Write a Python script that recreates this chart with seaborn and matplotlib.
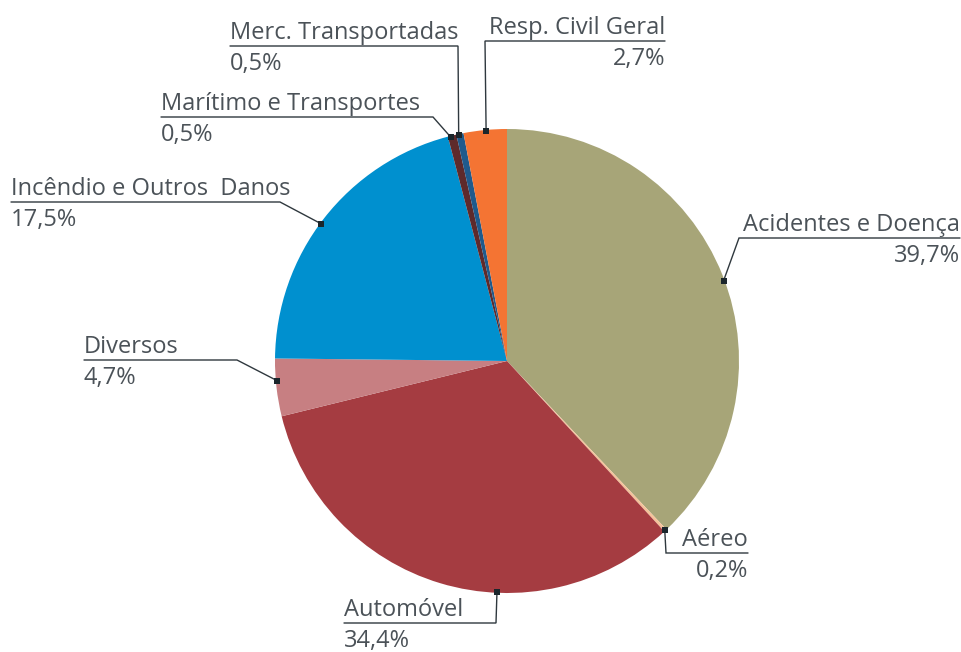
import numpy as np
import seaborn as sns
import matplotlib.pyplot as plt

# categories, clockwise from 12 o'clock
categories = ["Acidentes e Doença", "Aéreo", "Automóvel", "Diversos",
              "Incêndio e Outros  Danos", "Marítimo e Transportes",
              "Merc. Transportadas", "Resp. Civil Geral"]
# slice shares as drawn in the picture (%)
shares = [37.9, 0.2, 33.0, 4.0, 20.7, 0.6, 0.5, 3.0]
# printed percentages
pct_labels = ["39,7%", "0,2%", "34,4%", "4,7%", "17,5%", "0,5%", "0,5%", "2,7%"]
colors = ["#a7a578", "#f5c29a", "#a53c41", "#c77f82",
          "#0090cf", "#5e2a2b", "#1f5a8c", "#f47433"]

# where on each wedge the leader starts (fraction of the wedge angle)
anchor_frac = [0.51, 0.5, 0.38, 0.62, 0.48, 0.3, 0.3, 0.52]
# leader layout in pixels: elbow x, elbow y, underline end x, side of text
layout = [
    (739, 238, 960, "right"),
    (666, 553, 748, "right"),
    (496, 623, 344, "left"),
    (237, 360, 84, "left"),
    (280, 202, 11, "left"),
    (433, 117, 161, "left"),
    (458, 46, 230, "left"),
    (485, 41, 665, "right"),
]

sns.set_theme(style="white")
plt.rcParams["font.family"] = ["Open Sans", "DejaVu Sans"]
text_col = "#4b5258"
line_col = "#2f383e"

fig = plt.figure(figsize=(9.61, 6.52), dpi=100)
ax = fig.add_axes([0, 0, 1, 1])

cx, cy, r = 507, 361, 232
wedges, _ = ax.pie(shares, colors=sns.color_palette(colors), startangle=270,
                   counterclock=True, center=(cx, cy), radius=r,
                   wedgeprops=dict(linewidth=0))
ax.set_xlim(0, 961)
ax.set_ylim(652, 0)
ax.set_aspect("auto")
ax.axis("off")

for w, name, pct, f, (ex, ey, endx, side) in zip(wedges, categories, pct_labels,
                                                anchor_frac, layout):
    ang = np.deg2rad(w.theta1 + f * (w.theta2 - w.theta1))
    px = cx + (w.r - 1) * np.cos(ang)
    py = cy + (w.r - 1) * np.sin(ang)
    ax.plot([px, ex, endx], [py, ey, ey], color=line_col, lw=1.0,
            solid_joinstyle="miter")
    ax.plot([px], [py], marker="s", ms=4.2, color="#1b262c", mew=0)
    ha = "right" if side == "right" else "left"
    ax.text(endx, ey - 7, name, ha=ha, va="baseline", fontsize=17, color=text_col)
    ax.text(endx, ey + 24, pct, ha=ha, va="baseline", fontsize=17, color=text_col)

fig.savefig("out.png", dpi=100)
